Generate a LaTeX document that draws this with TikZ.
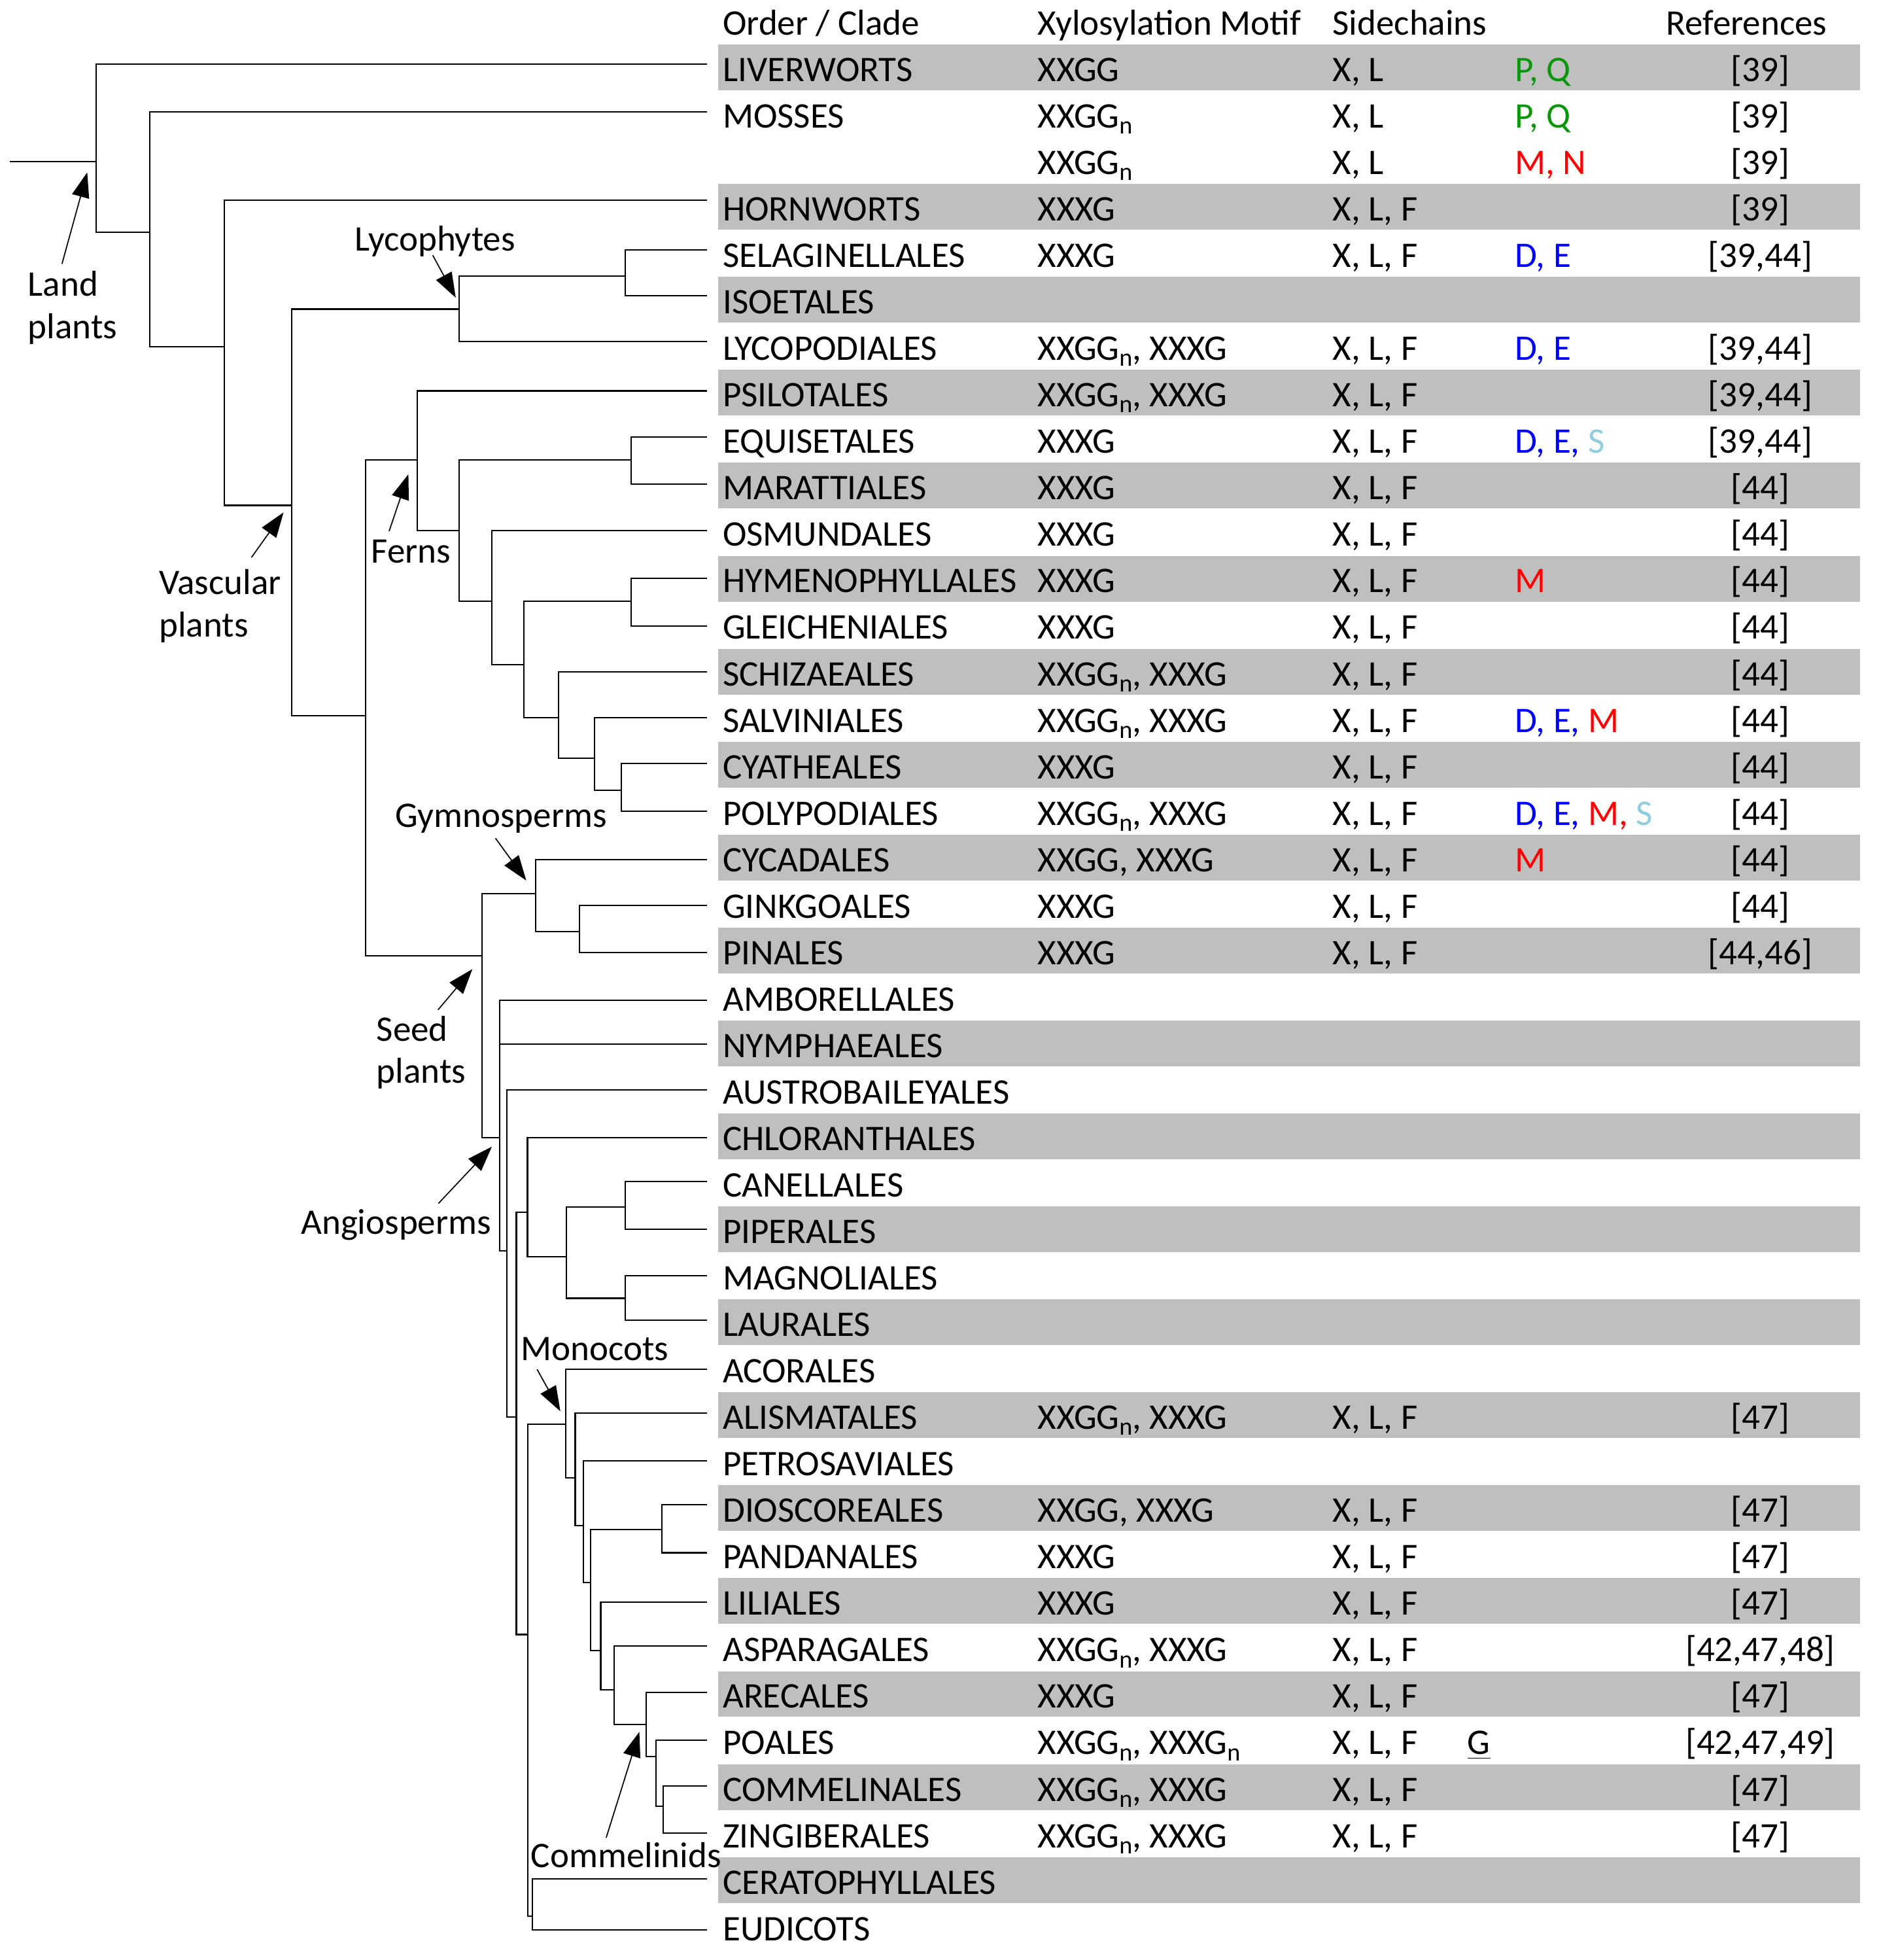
\documentclass[tikz,border=0pt]{standalone}
\usepackage{fontspec}
\setmainfont{Carlito}
\usetikzlibrary{arrows.meta}
\definecolor{bandgray}{HTML}{BFBFBF}
\definecolor{cgreen}{HTML}{0A960A}
\definecolor{cred}{HTML}{FF0000}
\definecolor{cblue}{HTML}{0000FF}
\definecolor{clblue}{HTML}{92CDDC}
\newcommand\subn{\raisebox{-0.35ex}{\fontsize{10pt}{12pt}\selectfont n}}
\newcommand\gr[1]{\textcolor{cgreen}{#1}}
\newcommand\rd[1]{\textcolor{cred}{#1}}
\newcommand\bl[1]{\textcolor{cblue}{#1}}
\newcommand\lb[1]{\textcolor{clblue}{#1}}
\newcommand\rb[1]{65.15+37.18*(#1-1)}
\newcommand\rc[1]{53.95+37.18*(#1-1)}
\newcommand\band[1]{\fill[bandgray] (574.8,{\rc{#1}-18.3}) rectangle (1488.2,{\rc{#1}+18.3});}
\newcommand\trow[6]{%
  \node[tx] (nm#1) at (578,{\rb{#1}}) {#2};
  \node[tx] (mo#1) at (830,{\rb{#1}}) {#3};
  \node[tx] (sc#1) at (1066,{\rb{#1}}) {#4};
  \node[tx] (co#1) at (1212,{\rb{#1}}) {#5};
  \node[rf] (rf#1) at (1408.6,{\rb{#1}}) {#6};}
\newcommand\bra[3]{\draw[tree] (#2) -- (#1 |- #2) -- (#1 |- #3) -- (#3);}
\begin{document}
\begin{tikzpicture}[x=0.5pt,y=-0.5pt,
  tx/.style={anchor=base west,inner sep=0pt,font=\fontsize{14.4pt}{17pt}\selectfont},
  rf/.style={anchor=base,inner sep=0pt,font=\fontsize{14.4pt}{17pt}\selectfont},
  lab/.style={inner sep=0pt,align=left,font=\fontsize{14.4pt}{17pt}\selectfont},
  tree/.style={line width=0.55pt},
  arr/.style={line width=0.45pt,-{Triangle[length=10pt,width=7pt]}}]
\useasboundingbox (0,0) rectangle (1505,1568);
% gray bands
\band{1}
\foreach \i in {4,6,...,40} {\band{\i}}
% header
\node[tx] (h1) at (578,{\rb{0}}) {Order / Clade};
\node[tx] (h2) at (830,{\rb{0}}) {Xylosylation Motif};
\node[tx] (h3) at (1066,{\rb{0}}) {Sidechains};
\node[tx] (h4) at (1333,{\rb{0}}) {References};
% rows
\trow{1}{LIVERWORTS}{XXGG}{X, L}{\gr{P, Q}}{[39]}
\trow{2}{MOSSES}{XXGG\subn}{X, L}{\gr{P, Q}}{[39]}
\trow{3}{}{XXGG\subn}{X, L}{\rd{M, N}}{[39]}
\trow{4}{HORNWORTS}{XXXG}{X, L, F}{}{[39]}
\trow{5}{SELAGINELLALES}{XXXG}{X, L, F}{\bl{D, E}}{[39,44]}
\trow{6}{ISOETALES}{}{}{}{}
\trow{7}{LYCOPODIALES}{XXGG\subn, XXXG}{X, L, F}{\bl{D, E}}{[39,44]}
\trow{8}{PSILOTALES}{XXGG\subn, XXXG}{X, L, F}{}{[39,44]}
\trow{9}{EQUISETALES}{XXXG}{X, L, F}{\bl{D, E,} \lb{S}}{[39,44]}
\trow{10}{MARATTIALES}{XXXG}{X, L, F}{}{[44]}
\trow{11}{OSMUNDALES}{XXXG}{X, L, F}{}{[44]}
\trow{12}{HYMENOPHYLLALES}{XXXG}{X, L, F}{\rd{M}}{[44]}
\trow{13}{GLEICHENIALES}{XXXG}{X, L, F}{}{[44]}
\trow{14}{SCHIZAEALES}{XXGG\subn, XXXG}{X, L, F}{}{[44]}
\trow{15}{SALVINIALES}{XXGG\subn, XXXG}{X, L, F}{\bl{D, E,} \rd{M}}{[44]}
\trow{16}{CYATHEALES}{XXXG}{X, L, F}{}{[44]}
\trow{17}{POLYPODIALES}{XXGG\subn, XXXG}{X, L, F}{\bl{D, E,} \rd{M,} \lb{S}}{[44]}
\trow{18}{CYCADALES}{XXGG, XXXG}{X, L, F}{\rd{M}}{[44]}
\trow{19}{GINKGOALES}{XXXG}{X, L, F}{}{[44]}
\trow{20}{PINALES}{XXXG}{X, L, F}{}{[44,46]}
\trow{21}{AMBORELLALES}{}{}{}{}
\trow{22}{NYMPHAEALES}{}{}{}{}
\trow{23}{AUSTROBAILEYALES}{}{}{}{}
\trow{24}{CHLORANTHALES}{}{}{}{}
\trow{25}{CANELLALES}{}{}{}{}
\trow{26}{PIPERALES}{}{}{}{}
\trow{27}{MAGNOLIALES}{}{}{}{}
\trow{28}{LAURALES}{}{}{}{}
\trow{29}{ACORALES}{}{}{}{}
\trow{30}{ALISMATALES}{XXGG\subn, XXXG}{X, L, F}{}{[47]}
\trow{31}{PETROSAVIALES}{}{}{}{}
\trow{32}{DIOSCOREALES}{XXGG, XXXG}{X, L, F}{}{[47]}
\trow{33}{PANDANALES}{XXXG}{X, L, F}{}{[47]}
\trow{34}{LILIALES}{XXXG}{X, L, F}{}{[47]}
\trow{35}{ASPARAGALES}{XXGG\subn, XXXG}{X, L, F}{}{[42,47,48]}
\trow{36}{ARECALES}{XXXG}{X, L, F}{}{[47]}
\trow{37}{POALES}{XXGG\subn, XXXG\subn}{X, L, F}{}{[42,47,49]}
\node[tx] (g37) at (1174,{\rb{37}}) {\underline{G}};
\trow{38}{COMMELINALES}{XXGG\subn, XXXG}{X, L, F}{}{[47]}
\trow{39}{ZINGIBERALES}{XXGG\subn, XXXG}{X, L, F}{}{[47]}
\trow{40}{CERATOPHYLLALES}{}{}{}{}
\trow{41}{EUDICOTS}{}{}{}{}
% tree leaves
\coordinate (t1) at (565.5,51.5);
\coordinate (t2) at (565.5,89.5);
\coordinate (t4) at (565.5,160);
\coordinate (t5) at (565.5,199.8);
\coordinate (t6) at (565.5,236.4);
\coordinate (t7) at (565.5,273.1);
\coordinate (t8) at (565.5,312.7);
\coordinate (t9) at (565.5,349.4);
\coordinate (t10) at (565.5,387.5);
\coordinate (t11) at (565.5,424.3);
\coordinate (t12) at (565.5,462.6);
\coordinate (t13) at (565.5,500.7);
\coordinate (t14) at (565.5,537.5);
\coordinate (t15) at (565.5,574.2);
\coordinate (t16) at (565.5,610.7);
\coordinate (t17) at (565.5,649.1);
\coordinate (t18) at (565.5,687.5);
\coordinate (t19) at (565.5,724.1);
\coordinate (t20) at (565.5,762.2);
\coordinate (t21) at (565.5,800.4);
\coordinate (t22) at (565.5,835.5);
\coordinate (t23) at (565.5,872.1);
\coordinate (t24) at (565.5,910.3);
\coordinate (t25) at (565.5,945.4);
\coordinate (t26) at (565.5,983.6);
\coordinate (t27) at (565.5,1020.4);
\coordinate (t28) at (565.5,1056);
\coordinate (t29) at (565.5,1095.3);
\coordinate (t30) at (565.5,1130.6);
\coordinate (t31) at (565.5,1168.6);
\coordinate (t32) at (565.5,1203.5);
\coordinate (t33) at (565.5,1242.2);
\coordinate (t34) at (565.5,1281.6);
\coordinate (t35) at (565.5,1316.9);
\coordinate (t36) at (565.5,1353.7);
\coordinate (t37) at (565.5,1392);
\coordinate (t38) at (565.5,1428.6);
\coordinate (t39) at (565.5,1466.6);
\coordinate (t40) at (565.5,1503.3);
\coordinate (t41) at (565.5,1543.8);
% internal nodes
\coordinate (root) at (8,129.5);
\coordinate (L0) at (77.1,129.5);
\coordinate (N1) at (120,185.8);
\coordinate (N2) at (179.6,277.5);
\coordinate (N3) at (233.2,404.3);
\coordinate (Ly) at (367.2,247.3);
\coordinate (SI) at (500.2,221);
\coordinate (N4) at (292.7,572.6);
\coordinate (F0) at (333.8,367.8);
\coordinate (F1) at (367.6,424.3);
\coordinate (EM) at (505,367.8);
\coordinate (F2) at (393.7,481);
\coordinate (F3) at (419.4,531.5);
\coordinate (HG) at (505,481);
\coordinate (F4) at (446.9,574.2);
\coordinate (F5) at (475.9,606.4);
\coordinate (F6) at (497.2,632.2);
\coordinate (S0) at (385.5,764.8);
\coordinate (G0) at (428.6,714.9);
\coordinate (GP) at (463.7,745.1);
\coordinate (A0) at (399.8,910.3);
\coordinate (A1) at (405.7,1000.7);
\coordinate (A2) at (413.2,1133.6);
\coordinate (A3) at (422.1,969.9);
\coordinate (MG) at (453.1,1005.4);
\coordinate (CP) at (500.3,965.5);
\coordinate (ML) at (500.3,1038.6);
\coordinate (A4) at (422.3,1307.6);
\coordinate (CE) at (425.8,1532.9);
\coordinate (M0) at (452.8,1139.4);
\coordinate (M1) at (460.3,1182.4);
\coordinate (M2) at (466.8,1220.5);
\coordinate (M3) at (472.5,1266.2);
\coordinate (DP) at (529.6,1223.7);
\coordinate (M4) at (480.7,1320.3);
\coordinate (M5) at (491.2,1351.8);
\coordinate (C0) at (516.9,1379.7);
\coordinate (C1) at (524.9,1405.2);
\coordinate (C2) at (530.8,1445.2);
% tree
\draw[tree] (root) -- (L0);
\bra{L0}{t1}{N1}
\bra{N1}{t2}{N2}
\bra{N2}{t4}{N3}
\bra{N3}{Ly}{N4}
\bra{Ly}{SI}{t7}
\bra{SI}{t5}{t6}
\bra{N4}{F0}{S0}
\bra{F0}{t8}{F1}
\bra{F1}{EM}{F2}
\bra{EM}{t9}{t10}
\bra{F2}{t11}{F3}
\bra{F3}{HG}{F4}
\bra{HG}{t12}{t13}
\bra{F4}{t14}{F5}
\bra{F5}{t15}{F6}
\bra{F6}{t16}{t17}
\bra{S0}{G0}{A0}
\bra{G0}{t18}{GP}
\bra{GP}{t19}{t20}
\bra{A0}{t21}{A1}
\draw[tree] (A0 |- t22) -- (t22);
\bra{A1}{t23}{A2}
\bra{A2}{A3}{A4}
\bra{A3}{t24}{MG}
\bra{MG}{CP}{ML}
\bra{CP}{t25}{t26}
\bra{ML}{t27}{t28}
\bra{A4}{M0}{CE}
\bra{CE}{t40}{t41}
\bra{M0}{t29}{M1}
\bra{M1}{t30}{M2}
\bra{M2}{t31}{M3}
\bra{M3}{DP}{M4}
\bra{DP}{t32}{t33}
\bra{M4}{t34}{M5}
\bra{M5}{t35}{C0}
\bra{C0}{t36}{C1}
\bra{C1}{t37}{C2}
\bra{C2}{t38}{t39}
% clade labels
\node[lab,anchor=west] (lland) at (22,246) {Land\\plants};
\node[lab] (llyc) at (348,193) {Lycophytes};
\node[lab,anchor=west] (lvasc) at (127,485) {Vascular\\plants};
\node[lab] (lfern) at (329,441) {Ferns};
\node[lab] (lgym) at (401,655) {Gymnosperms};
\node[lab,anchor=west] (lseed) at (301,842) {Seed\\plants};
\node[lab] (langio) at (317,980) {Angiosperms};
\node[lab] (lmono) at (476,1079) {Monocots};
\node[lab] (lcomm) at (501,1484) {Commelinids};
% arrows
\coordinate (aland0) at (49.6,211.1);   \coordinate (aland1) at (69.8,137.9);
\coordinate (alyc0) at (346.3,204.2);   \coordinate (alyc1) at (364.7,238.2);
\coordinate (avasc0) at (201.2,446);    \coordinate (avasc1) at (226.9,409.9);
\coordinate (afern0) at (311.4,424.9);  \coordinate (afern1) at (326.8,379.4);
\coordinate (agym0) at (396.5,670.6);   \coordinate (agym1) at (421.1,704.4);
\coordinate (aseed0) at (350.5,807.9);  \coordinate (aseed1) at (378,775.3);
\coordinate (aang0) at (350.8,962.8);   \coordinate (aang1) at (393.6,917.3);
\coordinate (amono0) at (429.8,1095.5); \coordinate (amono1) at (448.4,1129);
\coordinate (acomm0) at (485.1,1470.1); \coordinate (acomm1) at (511.6,1385.5);
\draw[arr] (aland0) -- (aland1);
\draw[arr] (alyc0) -- (alyc1);
\draw[arr] (avasc0) -- (avasc1);
\draw[arr] (afern0) -- (afern1);
\draw[arr] (agym0) -- (agym1);
\draw[arr] (aseed0) -- (aseed1);
\draw[arr] (aang0) -- (aang1);
\draw[arr] (amono0) -- (amono1);
\draw[arr] (acomm0) -- (acomm1);
\end{tikzpicture}
\end{document}
